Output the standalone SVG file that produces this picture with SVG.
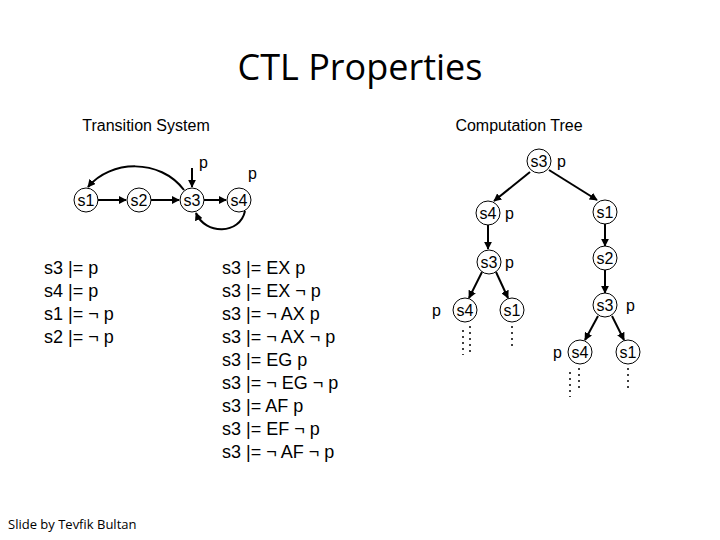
<svg xmlns="http://www.w3.org/2000/svg" width="720" height="540" viewBox="0 0 720 540">
<style>
.n circle{fill:#fff;stroke:#000;stroke-width:1}
.n text,.t{font-family:"Liberation Sans",Arial,sans-serif;font-size:16px;fill:#000}
.n text{text-anchor:middle}
.f{font-family:"Liberation Sans",Arial,sans-serif;font-size:18px}
.c path,.c line{fill:none;stroke:#000;stroke-width:2;marker-end:url(#a)}
.d{stroke:#000;stroke-width:1.5;stroke-dasharray:2 4;fill:none}
</style>
<defs><marker id="a" viewBox="0 0 10 10" refX="9" refY="5" markerWidth="4" markerHeight="4" orient="auto"><path d="M0,0L10,5L0,10z"/></marker></defs>
<rect width="720" height="540" fill="#fff"/>
<text x="360" y="80" text-anchor="middle" font-family="Open Sans,sans-serif" font-size="36">CTL Properties</text>
<text x="146" y="131" text-anchor="middle" class="t" font-size="18">Transition System</text>
<text x="519" y="131" text-anchor="middle" class="t" font-size="18">Computation Tree</text>
<g class="c">
<line x1="98" y1="200" x2="126" y2="200"/>
<line x1="151" y1="200" x2="179" y2="200"/>
<line x1="204" y1="200" x2="226" y2="200"/>
<line x1="192" y1="168" x2="192" y2="187"/>
<path d="M184,190 C160,158 110,160 88,187"/>
<path d="M245,211 C240,235 205,235 196,213"/>
<line x1="530" y1="172" x2="494" y2="201"/>
<line x1="549" y1="170" x2="597" y2="200"/>
<line x1="488" y1="225" x2="488" y2="249"/>
<line x1="605" y1="224" x2="605" y2="246"/>
<line x1="605" y1="270" x2="605" y2="293"/>
<line x1="482" y1="272" x2="469" y2="298"/>
<line x1="496" y1="272" x2="508" y2="298"/>
<line x1="598" y1="316" x2="585" y2="340"/>
<line x1="612" y1="316" x2="624" y2="340"/>
</g>
<g id="ts-s1" class="n"><circle cx="86" cy="200" r="12"/><text x="86" y="206">s1</text></g>
<g id="ts-s2" class="n"><circle cx="139" cy="200" r="12"/><text x="139" y="206">s2</text></g>
<g id="ts-s3" class="n"><circle cx="192" cy="200" r="12"/><text x="192" y="206">s3</text></g>
<g id="ts-s4" class="n"><circle cx="239" cy="200" r="12"/><text x="239" y="206">s4</text></g>
<text class="t" x="199" y="168">p</text>
<text class="t" x="248" y="179">p</text>
<g id="t-root" class="n"><circle cx="539" cy="161" r="12"/><text x="539" y="167">s3</text></g>
<text class="t" x="557" y="167">p</text>
<g id="t-s4a" class="n"><circle cx="488" cy="213" r="12"/><text x="488" y="219">s4</text></g>
<text class="t" x="505" y="219">p</text>
<g id="t-s1a" class="n"><circle cx="605" cy="212" r="12"/><text x="605" y="218">s1</text></g>
<g id="t-s3b" class="n"><circle cx="489" cy="262" r="12"/><text x="489" y="268">s3</text></g>
<text class="t" x="505" y="268">p</text>
<g id="t-s2a" class="n"><circle cx="605" cy="258" r="12"/><text x="605" y="264">s2</text></g>
<g id="t-s4b" class="n"><circle cx="465" cy="310" r="12"/><text x="465" y="316">s4</text></g>
<text class="t" x="432" y="316">p</text>
<g id="t-s1b" class="n"><circle cx="512" cy="310" r="12"/><text x="512" y="316">s1</text></g>
<g id="t-s3c" class="n"><circle cx="605" cy="305" r="12"/><text x="605" y="311">s3</text></g>
<text class="t" x="626" y="311">p</text>
<g id="t-s4c" class="n"><circle cx="580" cy="352" r="12"/><text x="580" y="358">s4</text></g>
<text class="t" x="553" y="358">p</text>
<g id="t-s1c" class="n"><circle cx="628" cy="352" r="12"/><text x="628" y="358">s1</text></g>
<path class="d" d="M463,330V355M470,326V352M512,326V348M570,372V397M579,368V392M628,368V392"/>
<g class="f">
<text x="44" y="274">s3 |= p</text>
<text x="44" y="297">s4 |= p</text>
<text x="44" y="320">s1 |= ¬ p</text>
<text x="44" y="343">s2 |= ¬ p</text>
<text x="222" y="274">s3 |= EX p</text>
<text x="222" y="297">s3 |= EX ¬ p</text>
<text x="222" y="320">s3 |= ¬ AX p</text>
<text x="222" y="343">s3 |= ¬ AX ¬ p</text>
<text x="222" y="366">s3 |= EG p</text>
<text x="222" y="389">s3 |= ¬ EG ¬ p</text>
<text x="222" y="412">s3 |= AF p</text>
<text x="222" y="435">s3 |= EF ¬ p</text>
<text x="222" y="458">s3 |= ¬ AF ¬ p</text>
</g>
<text x="8" y="529" font-family="Open Sans,sans-serif" font-size="13">Slide by Tevfik Bultan</text>
</svg>
